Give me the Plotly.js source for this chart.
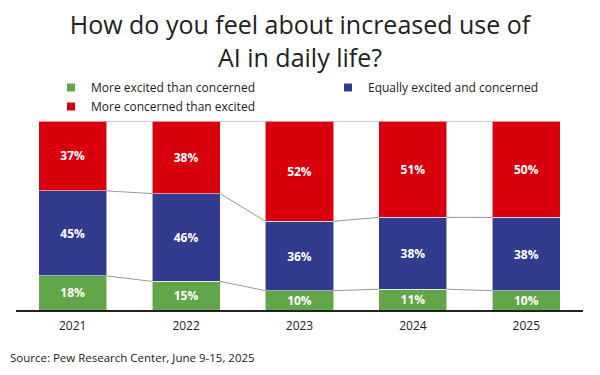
<!DOCTYPE html>
<html>
<head>
<meta charset="utf-8">
<script src="https://cdn.plot.ly/plotly-3.0.1.min.js"></script>
<style>html,body{margin:0;padding:0;background:#fff}#chart{width:600px;height:375px}</style>
</head>
<body>
<div id="chart"></div>
<script>
const years = ['2021', '2022', '2023', '2024', '2025'];
const excited = [18, 15, 10, 11, 10];
const equally = [45, 46, 36, 38, 38];
const concerned = [37, 38, 52, 51, 50];
const seriesNames = ['More excited than concerned', 'Equally excited and concerned', 'More concerned than excited'];
const colors = ['#62a64a', '#333b8f', '#d9000d'];
const sourceText = 'Source: Pew Research Center, June 9-15, 2025';

const xs = years.map((_, i) => i);
const series = [excited, equally, concerned];
const BW = 0.6;

const traces = [];
series.forEach((vals, k) => {
  traces.push({
    type: 'bar', x: xs, y: vals, name: seriesNames[k], showlegend: false,
    width: BW,
    marker: {color: colors[k], line: {color: 'rgba(255,255,255,0.55)', width: 1}},
    text: vals.map(v => v + '%'), textposition: 'inside', insidetextanchor: 'middle',
    constraintext: 'none',
    textfont: {family: 'Open Sans', size: 12, color: '#fff', weight: 'bold'},
    hoverinfo: 'skip'
  });
});

// connectors between stacked segment boundaries (normalized to 100%)
const totals = years.map((_, i) => excited[i] + equally[i] + concerned[i]);
const cum = [
  years.map((_, i) => excited[i] / totals[i] * 100),
  years.map((_, i) => (excited[i] + equally[i]) / totals[i] * 100),
  years.map((_, i) => 100)
];
cum.forEach(c => {
  const cx = [], cy = [];
  for (let i = 0; i < years.length - 1; i++) {
    cx.push(i + BW / 2, i + 1 - BW / 2, null);
    cy.push(c[i], c[i + 1], null);
  }
  traces.push({type: 'scatter', mode: 'lines', x: cx, y: cy, showlegend: false,
    line: {color: '#999', width: 1}, hoverinfo: 'skip', cliponaxis: false, yaxis: 'y2'});
});

// legend entries
seriesNames.forEach((n, k) => {
  traces.push({type: 'scatter', mode: 'markers', x: [null], y: [null], name: n,
    marker: {symbol: 'square', size: 8, color: colors[k]}});
});

const layout = {
  width: 600, height: 375,
  margin: {l: 16, r: 17, t: 120, b: 65},
  barmode: 'stack', barnorm: 'percent',
  paper_bgcolor: '#fff', plot_bgcolor: '#fff',
  font: {family: 'Open Sans', color: '#222', size: 12},
  title: {text: 'How do you feel about increased use of<br>AI in daily life?',
    font: {family: 'Open Sans', size: 25, color: '#222'}, x: 0.5, xanchor: 'center',
    y: 1 - 34 / 375, yanchor: 'middle', yref: 'container'},
  xaxis: {range: [-0.5, 4.5], tickvals: xs, ticktext: years, showgrid: false, zeroline: false,
    showline: true, linecolor: '#222', linewidth: 2, ticks: '', ticklabelstandoff: 4,
    tickfont: {size: 12, color: '#222'}, fixedrange: true},
  yaxis: {range: [0, 100], visible: false, fixedrange: true},
  yaxis2: {range: [0, 100], visible: false, overlaying: 'y', fixedrange: true},
  legend: {orientation: 'h', xref: 'container', yref: 'container', x: 51 / 600, y: 1 - 73 / 375, xanchor: 'left', yanchor: 'top',
    entrywidth: 232, entrywidthmode: 'pixels', font: {size: 12, color: '#222'}, traceorder: 'normal',
    tracegroupgap: 0},
  annotations: [{text: sourceText, xref: 'paper', yref: 'paper', x: 0, xshift: -8, y: -48 / 190, xanchor: 'left', yanchor: 'middle',
    showarrow: false, font: {size: 11.5, color: '#222'}}],
  showlegend: true
};

Plotly.newPlot('chart', traces, layout, {displayModeBar: false, staticPlot: true});
</script>
</body>
</html>
